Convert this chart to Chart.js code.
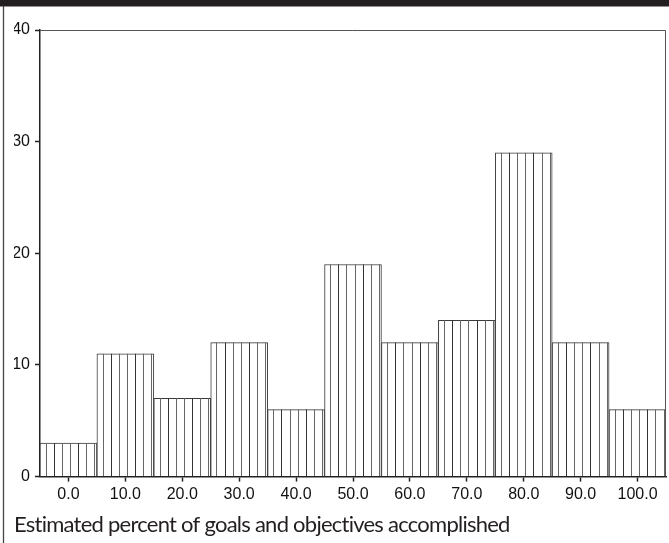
<!DOCTYPE html>
<html>
<head>
<meta charset="utf-8">
<script src="https://cdn.jsdelivr.net/npm/chart.js@4.4.1/dist/chart.umd.min.js"></script>
<style>
  html, body { margin: 0; padding: 0; background: #fff; }
  #wrap { width: 669px; height: 543px; position: relative; }
</style>
</head>
<body>
<div id="wrap"><canvas id="c" width="669" height="543"></canvas></div>
<script>
// Data
const categories = ["0.0", "10.0", "20.0", "30.0", "40.0", "50.0", "60.0", "70.0", "80.0", "90.0", "100.0"];
const counts = [3, 11, 7, 12, 6, 19, 12, 14, 29, 12, 6];
const yTicks = [0, 10, 20, 30, 40];
const xTitle = "Estimated percent of goals and objectives accomplished";

const INK = '#231f20';

const decorPlugin = {
  id: 'decor',
  beforeDraw(chart) {
    const ctx = chart.ctx;
    ctx.save();
    ctx.fillStyle = '#fff';
    ctx.fillRect(0, 0, chart.width, chart.height);
    ctx.fillStyle = INK;
    ctx.fillRect(0, 0, chart.width, 6.5);
    ctx.strokeStyle = '#444';
    ctx.lineWidth = 1.3;
    ctx.beginPath();
    ctx.moveTo(3.5, 6);
    ctx.lineTo(3.5, chart.height);
    ctx.stroke();
    ctx.restore();
  },
  afterDatasetsDraw(chart) {
    const ctx = chart.ctx;
    const meta = chart.getDatasetMeta(0);
    ctx.save();
    ctx.lineWidth = 1;
    meta.data.forEach((bar, i) => {
      const left = bar.x - bar.width / 2;
      const step = bar.width / 7;
      const top = Math.min(bar.y, bar.base);
      const bot = Math.max(bar.y, bar.base);
      for (let k = 0; k < 7; k++) {
        const x = Math.round(left + (k + 0.7) * step) + 0.5;
        ctx.strokeStyle = (k % 3 === 1) ? '#333' : '#666';
        ctx.beginPath();
        ctx.moveTo(x, top);
        ctx.lineTo(x, bot);
        ctx.stroke();
      }
    });
    // frame top & right
    const a = chart.chartArea;
    ctx.strokeStyle = '#555';
    ctx.lineWidth = 1;
    ctx.beginPath();
    ctx.moveTo(a.left, a.top + 0.5);
    ctx.lineTo(a.right - 0.5, a.top + 0.5);
    ctx.lineTo(a.right - 0.5, a.bottom);
    ctx.stroke();
    ctx.restore();
  }
};

const chart = new Chart(document.getElementById('c'), {
  type: 'bar',
  data: {
    labels: categories,
    datasets: [{
      data: counts,
      backgroundColor: '#ffffff',
      borderColor: '#3a3a3a',
      borderWidth: 1,
      categoryPercentage: 1.0,
      barPercentage: 1.0
    }]
  },
  options: {
    responsive: false,
    animation: false,
    devicePixelRatio: 1,
    layout: { padding: { left: 14, top: 30, right: 3, bottom: 5 } },
    plugins: {
      legend: { display: false },
      tooltip: { enabled: false },
      title: {
        display: true,
        text: xTitle,
        position: 'bottom',
        align: 'start',
        color: INK,
        font: { family: 'Lato', size: 22, weight: 'normal', lineHeight: 1.2 },
        padding: { top: 4, bottom: 0 }
      }
    },
    scales: {
      x: {
        offset: true,
        grid: { display: true, drawOnChartArea: false, offset: false, tickLength: 5, color: '#222', tickWidth: 1.5 },
        border: { display: true, color: '#222', width: 1.5 },
        ticks: { color: '#111', font: { family: 'Liberation Sans', size: 16 }, padding: 3, maxRotation: 0, autoSkip: false },
        afterFit(scale) { scale.height = 31; }
      },
      y: {
        min: 0,
        max: 40,
        afterBuildTicks(scale) { scale.ticks = yTicks.map(v => ({ value: v })); },
        grid: { display: true, drawOnChartArea: false, tickLength: 5, color: '#222', tickWidth: 1.5 },
        border: { display: true, color: '#222', width: 1.5 },
        ticks: { color: '#111', font: { family: 'Liberation Sans', size: 16 }, padding: 5 },
        afterFit(scale) { scale.width = 26; }
      }
    }
  },
  plugins: [decorPlugin]
});

// Slightly tighten the title's letter spacing to mimic the condensed original face
if (chart.titleBlock) {
  const tb = chart.titleBlock;
  const origDraw = tb.draw;
  tb.draw = function () {
    const ctx = this.ctx;
    ctx.save();
    ctx.letterSpacing = '-0.75px';
    origDraw.apply(this, arguments);
    ctx.restore();
  };
  chart.draw();
}
</script>
</body>
</html>
